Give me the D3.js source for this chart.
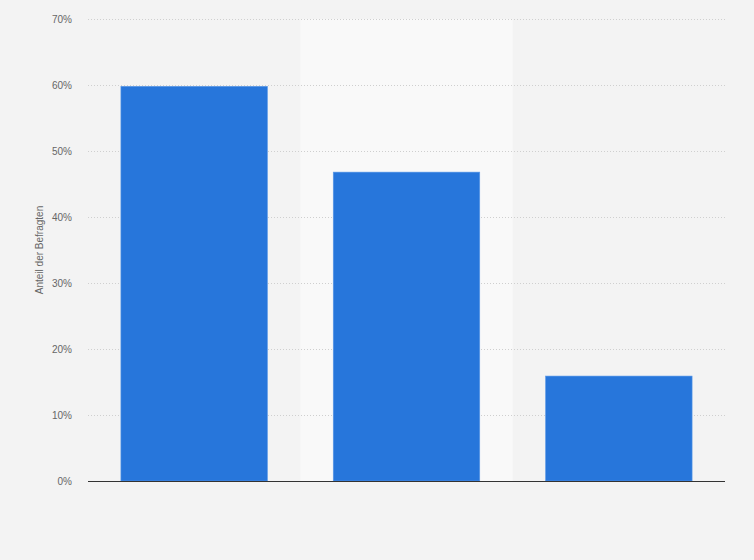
<!DOCTYPE html>
<html>
<head>
<meta charset="utf-8">
<script src="https://cdn.jsdelivr.net/npm/d3@7"></script>
<style>
  body { margin: 0; background: #f3f3f3; }
  svg { display: block; font-family: Arial, "Liberation Sans", sans-serif; }
</style>
</head>
<body>
<div class="container"></div>
<script>
const categories = ['A', 'B', 'C'];
const values = [59.8, 46.8, 15.9];
const yTicks = [0, 10, 20, 30, 40, 50, 60, 70];
const yLabel = 'Anteil der Befragten';

const width = 754;
const height = 560;
const margin = { top: 19, right: 29, bottom: 79, left: 88 };

const svg = d3.select('.container')
    .append('svg')
    .attr('width', width)
    .attr('height', height);

svg.append('rect')
    .attr('width', width)
    .attr('height', height)
    .attr('fill', '#f3f3f3');

const x = d3.scaleBand()
    .domain(categories)
    .range([margin.left, width - margin.right])
    .paddingInner(0.31)
    .paddingOuter(0.155);

const y = d3.scaleLinear()
    .domain([0, 70])
    .range([height - margin.bottom, margin.top]);

// lighter middle band
const step = x.step();
svg.append('rect')
    .attr('x', x(categories[1]) - step * x.paddingInner() / 2)
    .attr('y', margin.top)
    .attr('width', step)
    .attr('height', y(0) - margin.top)
    .attr('fill', '#f9f9f9');

// grid
svg.append('g')
    .selectAll('line')
    .data(yTicks.filter(d => d > 0))
    .join('line')
    .attr('x1', margin.left)
    .attr('x2', width - margin.right)
    .attr('y1', d => y(d) + 0.5)
    .attr('y2', d => y(d) + 0.5)
    .attr('stroke', '#cfcfcf')
    .attr('stroke-dasharray', '1,2');

// y axis labels
const yAxis = d3.axisLeft(y)
    .tickValues(yTicks)
    .tickFormat(d => d + '%')
    .tickSize(0)
    .tickPadding(16);

svg.append('g')
    .attr('transform', 'translate(' + margin.left + ',0)')
    .call(yAxis)
    .call(g => g.select('.domain').remove())
    .selectAll('text')
    .attr('fill', '#666')
    .style('font-size', '10px');

// bars
svg.append('g')
    .selectAll('rect')
    .data(values)
    .join('rect')
    .attr('x', (d, i) => x(categories[i]))
    .attr('y', d => y(d))
    .attr('width', x.bandwidth())
    .attr('height', d => y(0) - y(d))
    .attr('fill', '#2776db')
    .attr('stroke', '#5a98e8')
    .attr('stroke-width', 0.6);

// baseline
svg.append('line')
    .attr('x1', margin.left)
    .attr('x2', width - margin.right)
    .attr('y1', y(0) + 0.5)
    .attr('y2', y(0) + 0.5)
    .attr('stroke', '#333')
    .attr('stroke-width', 1.2);

// y axis title
svg.append('text')
    .attr('transform', 'translate(43,' + ((y(0) + margin.top) / 2) + ') rotate(-90)')
    .attr('text-anchor', 'middle')
    .attr('fill', '#666')
    .style('font-size', '10px')
    .text(yLabel);
</script>
</body>
</html>
